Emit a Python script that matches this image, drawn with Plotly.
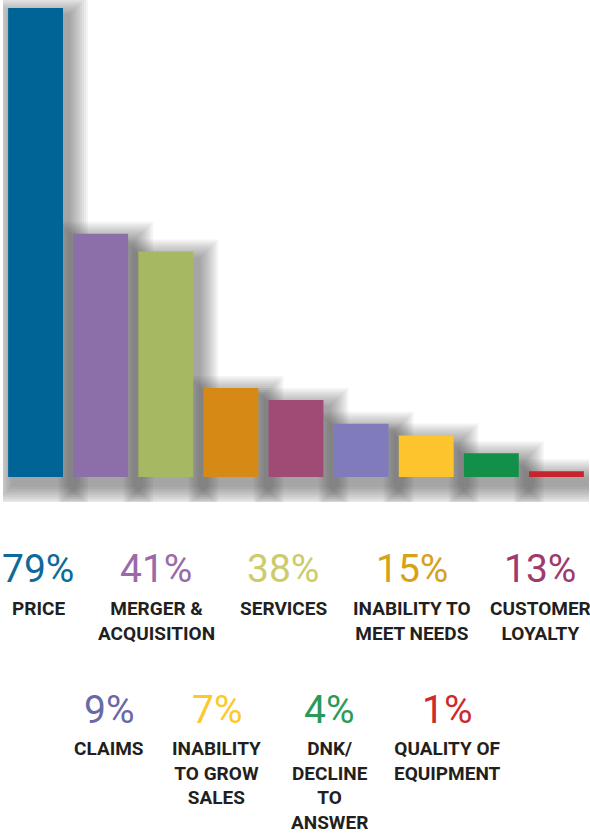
import plotly.graph_objects as go

# ---- data ----
categories = ["PRICE", "MERGER &<br>ACQUISITION", "SERVICES", "INABILITY TO<br>MEET NEEDS",
              "CUSTOMER<br>LOYALTY", "CLAIMS", "INABILITY<br>TO GROW<br>SALES",
              "DNK/<br>DECLINE<br>TO<br>ANSWER", "QUALITY OF<br>EQUIPMENT"]
values = [79, 41, 38, 15, 13, 9, 7, 4, 1]
bar_colors = ["#006496", "#8c6ea8", "#a6b862", "#d68a15", "#a04b75",
              "#807cbc", "#fec42e", "#12904a", "#c8242d"]
pct_colors = ["#0e6a9a", "#9a6aa8", "#cccc6c", "#d6a21a", "#a03a6c",
              "#6a68a6", "#fdc82e", "#2a9a5a", "#cc2a2e"]

# ---- layout constants (pixels) ----
W, H = 590, 833
plot_left, plot_right = 3, 589
plot_top, plot_bottom = 0, 502
y_min, y_max = -4.2, 80.35
bar_width = 0.843
label_x = [38, 156, 283, 412, 540, 109, 217, 329, 447]
label_row = [0, 0, 0, 0, 0, 1, 1, 1, 1]
pct_y = [569, 710]
name_top_y = [595, 735]

cat_px = (plot_right - plot_left) / len(categories)
val_px = (plot_bottom - plot_top) / (y_max - y_min)

xs = list(range(len(categories)))
fig = go.Figure()

# soft drop shadow layers
dx, dy = 5, 8
for s in [2, 4, 6, 8, 10, 12, 14, 16, 18, 20]:
    w = bar_width + 2 * s / cat_px
    fig.add_trace(go.Bar(
        x=xs, y=[v + 2 * s / val_px for v in values],
        base=-(dy + s) / val_px,
        width=w, offset=-w / 2 + dx / cat_px,
        marker=dict(color="rgba(60,55,55,0.055)", line=dict(width=0)),
        hoverinfo="skip", showlegend=False))

fig.add_trace(go.Bar(
    x=xs, y=values, width=bar_width,
    marker=dict(color=bar_colors, line=dict(width=0)),
    showlegend=False))

txt_font = "Roboto, Liberation Sans, sans-serif"
for i, (cat, v) in enumerate(zip(categories, values)):
    r = label_row[i]
    fig.add_annotation(x=label_x[i] / W, y=1 - pct_y[r] / H, xref="paper", yref="paper",
                       text=f"{v}%", showarrow=False, xanchor="center", yanchor="middle",
                       font=dict(family=txt_font, size=39, color=pct_colors[i]))
    fig.add_annotation(x=label_x[i] / W, y=1 - name_top_y[r] / H, xref="paper", yref="paper",
                       text=f"<b>{cat}</b>", showarrow=False, xanchor="center", yanchor="top",
                       align="center",
                       font=dict(family=txt_font, size=19, color="#231f20"))

fig.update_layout(
    width=W, height=H,
    margin=dict(l=0, r=0, t=0, b=0, autoexpand=False),
    paper_bgcolor="white", plot_bgcolor="white",
    barmode="overlay",
    xaxis=dict(domain=[plot_left / W, plot_right / W], range=[-0.5, len(categories) - 0.5],
               visible=False, fixedrange=True),
    yaxis=dict(domain=[1 - plot_bottom / H, 1 - plot_top / H], range=[y_min, y_max],
               visible=False, fixedrange=True),
)

fig.write_html("out.html", config={"displayModeBar": False},
               post_script="document.body.style.margin='0';")
